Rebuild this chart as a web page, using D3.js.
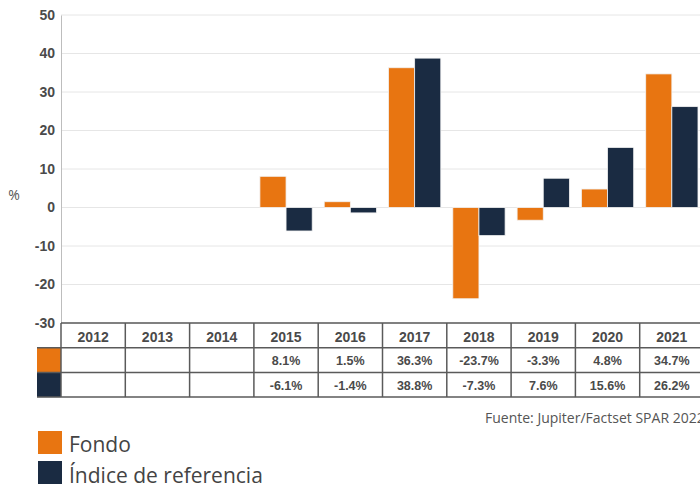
<!DOCTYPE html>
<html lang="es">
<head>
<meta charset="UTF-8" />
<title>Fondo vs índice</title>
<script src="https://cdn.jsdelivr.net/npm/d3@7"></script>
<style>
	body { margin: 0; background: #fff; }
	svg { display: block; }
</style>
</head>
<body>
<svg id="vis" width="700" height="486"></svg>
<script>
	// Datos
	const years = ["2012", "2013", "2014", "2015", "2016", "2017", "2018", "2019", "2020", "2021"];
	const fondo = [null, null, null, 8.1, 1.5, 36.3, -23.7, -3.3, 4.8, 34.7];
	const indice = [null, null, null, -6.1, -1.4, 38.8, -7.3, 7.6, 15.6, 26.2];
	const yTicks = [50, 40, 30, 20, 10, 0, -10, -20, -30];
	const seriesNames = ["Fondo", "Índice de referencia"];
	const colors = ["#e87511", "#1a2b42"];

	const svg = d3.select("#vis");

	const plotLeft = 61, colW = 64.3;
	const plotTop = 15, plotBottom = 323;

	// echelle x : une colonne par année
	const x = d3.scaleBand().domain(years).range([plotLeft, plotLeft + colW * years.length]);
	const xInner = d3.scaleBand().domain([0, 1]).range([0, colW]).paddingOuter(0.23).paddingInner(0);
	const y = d3.scaleLinear().domain([-30, 50]).range([plotBottom, plotTop]);

	// grille
	const gGrid = svg.append("g");
	gGrid.selectAll("line").data(yTicks).join("line")
		.attr("x1", plotLeft).attr("x2", 700)
		.attr("y1", d => y(d)).attr("y2", d => y(d))
		.attr("stroke", "#e6e6e6").attr("stroke-width", 1);

	// axe y
	const yAxis = d3.axisLeft(y).tickValues(yTicks).tickSize(0).tickPadding(6)
		.tickFormat(d => String(d));
	const gy = svg.append("g").attr("transform", `translate(${plotLeft},0)`).call(yAxis);
	gy.select(".domain").attr("stroke", "#bdbdbd");
	gy.selectAll("text")
		.attr("font-family", "Arial, 'Liberation Sans', sans-serif")
		.attr("font-size", 14).attr("font-weight", "bold").attr("fill", "#4a4a4a");

	svg.append("text").attr("x", 14).attr("y", 200).attr("text-anchor", "middle")
		.attr("font-family", "'Open Sans', sans-serif").attr("font-size", 14)
		.attr("fill", "#555").text("%");

	// barres
	const series = [fondo, indice];
	series.forEach((vals, s) => {
		svg.append("g").selectAll("rect")
			.data(vals.map((v, i) => ({ year: years[i], v })).filter(d => d.v !== null))
			.join("rect")
			.attr("x", d => x(d.year) + xInner(s))
			.attr("width", xInner.bandwidth())
			.attr("y", d => y(Math.max(0, d.v)))
			.attr("height", d => Math.abs(y(d.v) - y(0)))
			.attr("fill", colors[s])
			.attr("stroke", "#f2f2f2").attr("stroke-width", 0.8);
	});

	// tableau
	const rowH = 24.7;
	const tFont = "Arial, 'Liberation Sans', sans-serif";
	const gTable = svg.append("g");
	const tableRight = x.range()[1];

	// pastilles de couleur
	colors.forEach((c, i) => {
		gTable.append("rect")
			.attr("x", 37).attr("y", plotBottom + rowH * (i + 1))
			.attr("width", plotLeft - 37).attr("height", rowH)
			.attr("fill", c);
	});

	// lignes horizontales
	[0, 1, 2, 3].forEach(r => {
		gTable.append("line")
			.attr("x1", r === 0 ? plotLeft : 37).attr("x2", tableRight)
			.attr("y1", plotBottom + rowH * r).attr("y2", plotBottom + rowH * r)
			.attr("stroke", "#5a5a5a").attr("stroke-width", 1.5);
	});
	// lignes verticales
	gTable.selectAll("line.v").data(years.concat(["end"])).join("line")
		.attr("class", "v")
		.attr("x1", (d, i) => plotLeft + colW * i).attr("x2", (d, i) => plotLeft + colW * i)
		.attr("y1", plotBottom).attr("y2", plotBottom + rowH * 3)
		.attr("stroke", "#5a5a5a").attr("stroke-width", 1.5);

	gTable.selectAll("text.yr").data(years).join("text")
		.attr("class", "yr")
		.attr("x", d => x(d) + colW / 2).attr("y", plotBottom + 19)
		.attr("text-anchor", "middle")
		.attr("font-family", tFont).attr("font-size", 14).attr("font-weight", "bold")
		.attr("fill", "#4a4a4a").text(d => d);

	series.forEach((vals, s) => {
		gTable.append("g").selectAll("text")
			.data(vals.map((v, i) => ({ year: years[i], v })).filter(d => d.v !== null))
			.join("text")
			.attr("x", d => x(d.year) + colW / 2).attr("y", plotBottom + rowH * (s + 1) + 17.5)
			.attr("text-anchor", "middle")
			.attr("font-family", tFont).attr("font-size", 12.5).attr("font-weight", "bold")
			.attr("fill", "#4a4a4a").text(d => d.v.toFixed(1) + "%");
	});

	// source
	svg.append("text").attr("x", 485).attr("y", 423)
		.attr("font-family", "'Open Sans', sans-serif").attr("font-size", 14)
		.attr("fill", "#555").text("Fuente: Jupiter/Factset SPAR 2022");

	// legende
	seriesNames.forEach((n, i) => {
		svg.append("rect").attr("x", 38).attr("y", 431 + i * 30)
			.attr("width", 24).attr("height", 23).attr("fill", colors[i]);
		svg.append("text").attr("x", 69).attr("y", 452 + i * 30.5)
			.attr("font-family", "'Open Sans', sans-serif").attr("font-size", 21)
			.attr("fill", "#444").text(n);
	});
</script>
</body>
</html>
